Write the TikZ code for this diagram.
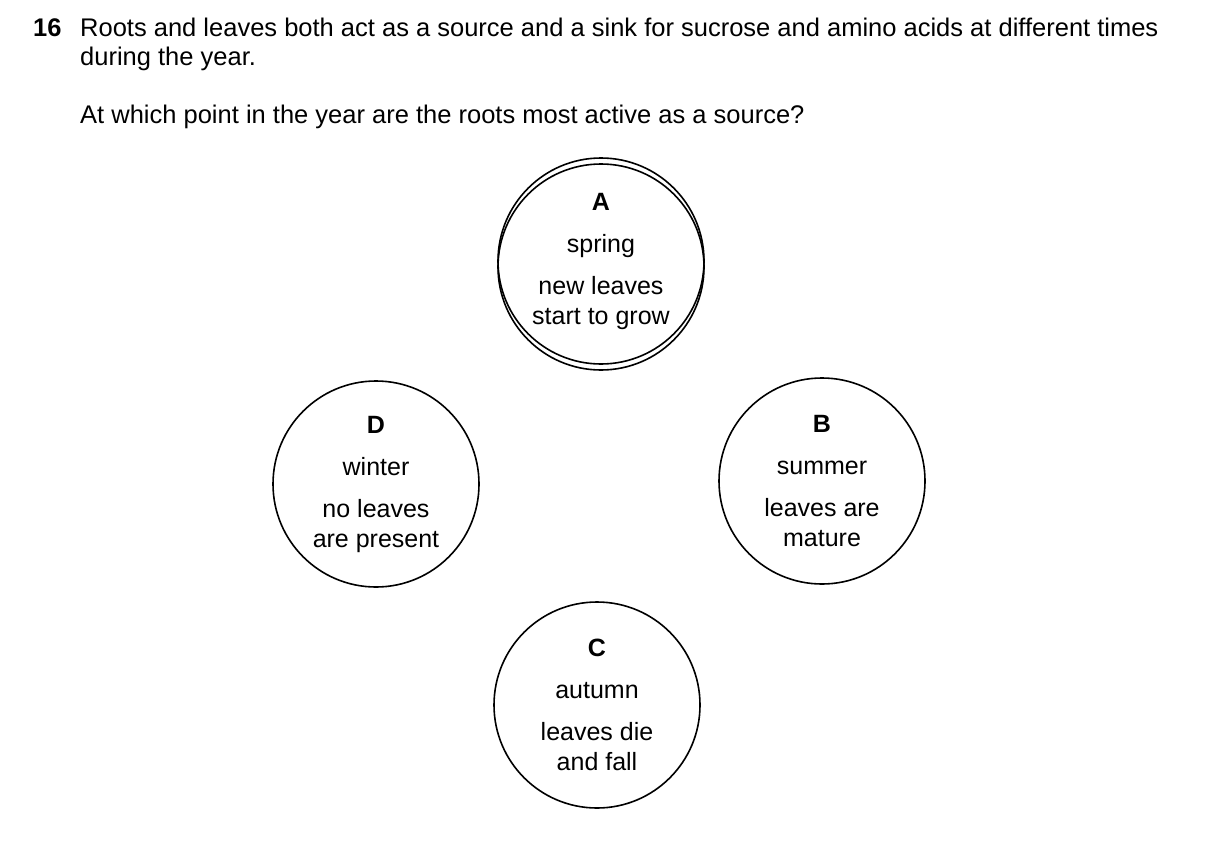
\documentclass[tikz,border=0pt]{standalone}
\usepackage{fontspec}
\setmainfont{Liberation Sans}
\usetikzlibrary{arrows.meta}
\begin{document}
\begin{tikzpicture}[x=1pt,y=-1pt,
  stage/.style={circle,draw,line width=1.6pt,minimum size=206pt,inner sep=0pt,align=center,font=\fontsize{25}{30}\selectfont},
  txt/.style={anchor=base west,inner sep=0pt,font=\fontsize{25.5}{28}\selectfont},
  arr/.style={-{Latex[length=14pt,width=9pt]},line width=1.4pt,shorten >=4pt,shorten <=4pt}]
\useasboundingbox (0,0) rectangle (1209,864);
\node[txt] (n) at (33,37) {\textbf{16}};
\node[txt] (l1) at (80,37) {Roots and leaves both act as a source and a sink for sucrose and amino acids at different times};
\node[txt] (l2) at (80,66) {during the year.};
\node[txt] (q) at (80,124) {At which point in the year are the roots most active as a source?};
\node[stage] (A) at (601,261) {\textbf{A}\\[12pt]spring\\[12pt]new leaves\\start to grow};
\node[stage] (Ac) at (601,267) {};
\node[stage] (B) at (822,481) {\textbf{B}\\[12pt]summer\\[12pt]leaves are\\mature};
\node[stage] (C) at (597,705) {\textbf{C}\\[12pt]autumn\\[12pt]leaves die\\and fall};
\node[stage] (D) at (376,484) {\textbf{D}\\[12pt]winter\\[12pt]no leaves\\are present};
\end{tikzpicture}
\end{document}
